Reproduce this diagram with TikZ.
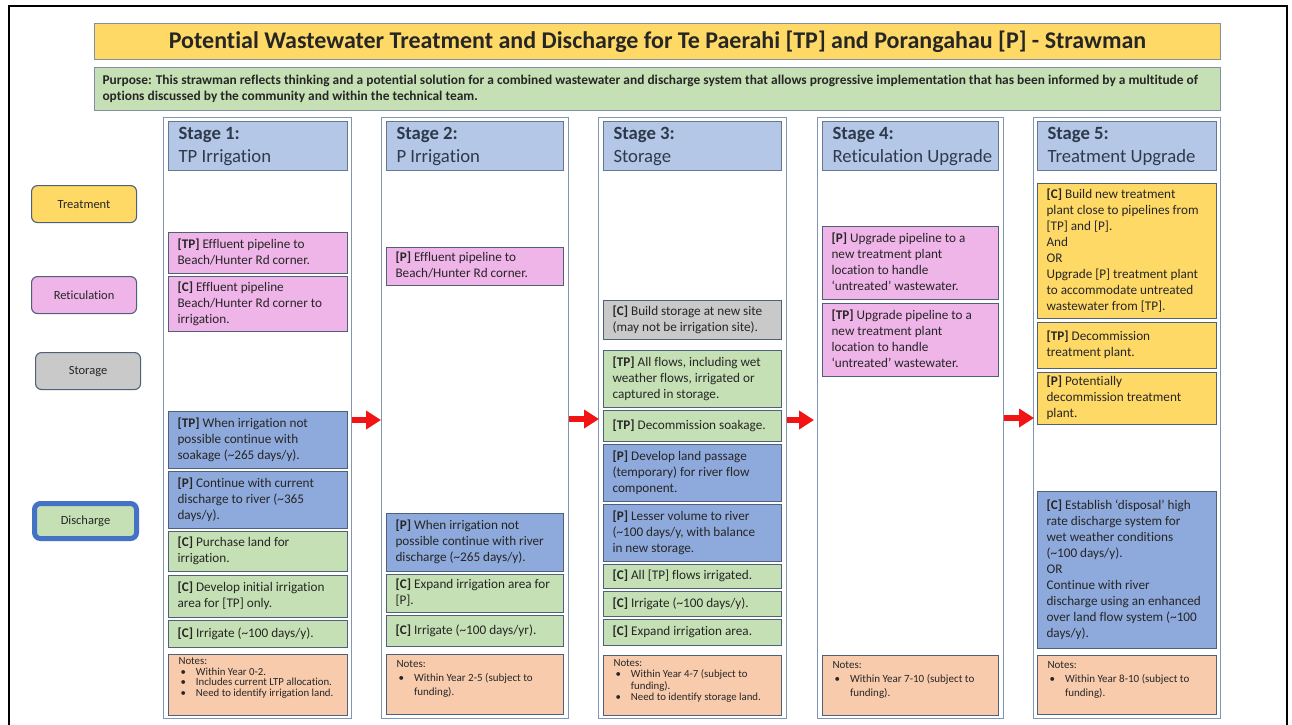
\documentclass[tikz,border=0pt]{standalone}
\usepackage{fontspec}
\setmainfont{Carlito}[Ligatures=NoCommon]
\usetikzlibrary{arrows.meta}
\definecolor{cgold}{HTML}{FFD966}
\definecolor{cpink}{HTML}{EFB4E8}
\definecolor{cgray}{HTML}{C9C9C9}
\definecolor{cgreen}{HTML}{C5E0B4}
\definecolor{cblue}{HTML}{8EA9DB}
\definecolor{chead}{HTML}{B4C7E7}
\definecolor{cnote}{HTML}{F8CBAD}
\definecolor{cbord}{HTML}{4F6179}
\definecolor{couter}{HTML}{8096B3}
\definecolor{ctxt}{HTML}{262626}
\definecolor{chtxt}{HTML}{2E3A4B}
\definecolor{cdisc}{HTML}{4472C4}
\definecolor{cred}{HTML}{F21414}
\tikzset{
  blk/.style={draw=cbord, line width=1.1pt, inner xsep=9pt, inner ysep=0pt,
    font=\fontsize{13.2}{16}\selectfont, text=ctxt},
  gold/.style={blk, fill=cgold},
  pink/.style={blk, fill=cpink},
  gray/.style={blk, fill=cgray},
  green/.style={blk, fill=cgreen},
  blue/.style={blk, fill=cblue},
  notebox/.style={blk, fill=cnote, inner xsep=10pt},
  headbox/.style={blk, fill=chead, draw=couter!80!black, text=chtxt, inner xsep=10pt,
    font=\fontsize{18.7}{23}\selectfont},
  column/.style={draw=couter, line width=1pt, fill=white},
  legend/.style={draw=cbord, line width=1.1pt, rounded corners=6pt, minimum width=105pt,
    minimum height=37pt, font=\fontsize{12.5}{15}\selectfont, text=ctxt},
  stagearrow/.style={draw=cred, line width=6pt, -{Triangle[length=15pt,width=18pt]}},
}
% box with vertically centred, left-aligned lines
\newcommand\bx[7][]{%
  \pgfmathsetmacro\bxw{#5-#3}%
  \pgfmathsetmacro\bxh{#6-#4}%
  \pgfmathsetmacro\bxt{#5-#3-18}%
  \node[#1, anchor=north west, minimum width=\bxw pt, minimum height=\bxh pt]
    (#2) at (#3,#4) {\makebox[\bxt pt][l]{\begin{tabular}{@{}l@{}}#7\end{tabular}}};}
% notes box: text at top
\newcommand\nt[7][]{%
  \pgfmathsetmacro\bxw{#5-#3}%
  \pgfmathsetmacro\bxh{#6-#4}%
  \pgfmathsetmacro\bxt{#5-#3-20}%
  \node[notebox, anchor=north west, minimum width=\bxw pt, minimum height=\bxh pt, #1]
    (#2) at (#3,#4) {\parbox[c][\bxh pt][t]{\bxt pt}{\vspace*{3pt}%
      \begin{tabular}{@{\hspace{2pt}}l@{\hspace{10pt}}l@{}}#7\end{tabular}}};}
\newcommand\hd[5]{%
  \pgfmathsetmacro\bxw{#4-#3}%
  \pgfmathsetmacro\bxt{#4-#3-20}%
  \node[headbox, anchor=north west, minimum width=\bxw pt, minimum height=49pt]
    (#1) at (#3,121) {\makebox[\bxt pt][l]{\begin{tabular}{@{}l@{}}\textbf{Stage #2:}\\#5\end{tabular}}};}
\newcommand\col[3]{%
  \pgfmathsetmacro\bxw{#3-#2}%
  \node[column, anchor=north west, minimum width=\bxw pt, minimum height=601pt] (#1) at (#2,117) {};}
\newcommand\nhead{\multicolumn{2}{@{}l@{}}{Notes:}}
\begin{document}
\begin{tikzpicture}[x=1pt,y=-1pt]
\useasboundingbox[fill=white] (0,0) rectangle (1292,724);
% outer frame
\draw[black, line width=2pt] (9,740) -- (9,6) -- (1287,6) -- (1287,740);

% title and purpose
\node[draw=cbord!70, line width=1pt, fill=cgold, anchor=north west, minimum width=1126pt,
  minimum height=36pt, font=\fontsize{24}{26}\selectfont\bfseries, text=ctxt] (title) at (94,23)
  {Potential Wastewater Treatment and Discharge for Te Paerahi [TP] and Porangahau [P] - Strawman};
\node[draw=cbord!70, line width=1pt, fill=cgreen, anchor=north west, minimum width=1126pt,
  minimum height=43pt, inner xsep=8pt, font=\fontsize{13.4}{16.5}\selectfont\bfseries, text=ctxt] (purpose) at (94,67)
  {\makebox[1110pt][l]{\begin{tabular}{@{}l@{}}Purpose: This strawman reflects thinking and a potential solution for a combined wastewater and discharge system that allows progressive implementation that has been informed by a multitude of\\options discussed by the community and within the technical team.\end{tabular}}};

% legend
\node[legend, fill=cgold, anchor=north west] (lgT) at (31,185) {Treatment};
\node[legend, fill=cpink, anchor=north west] (lgR) at (31,276) {Reticulation};
\node[legend, fill=cgray, anchor=north west] (lgS) at (35,352) {Storage};
\node[legend, fill=cgreen, draw=cdisc, line width=5pt, minimum width=102pt, minimum height=35pt, anchor=north west] (lgD) at (32,501) {Discharge};

% columns
\col{s1}{163}{351}
\col{s2}{381}{568}
\col{s3}{598}{786}
\col{s4}{817}{1003}
\col{s5}{1033}{1220}

% headers
\hd{h1}{1}{168}{347}{TP Irrigation}
\hd{h2}{2}{386}{563}{P Irrigation}
\hd{h3}{3}{603}{781}{Storage}
\hd{h4}{4}{822}{998}{Reticulation Upgrade}
\hd{h5}{5}{1037}{1216}{Treatment Upgrade}

% stage 1
\bx[pink]{a1}{168}{232}{347}{273}{\textbf{[TP]} Effluent pipeline to\\Beach/Hunter Rd corner.}
\bx[pink]{a2}{168}{276}{347}{331}{\textbf{[C]} Effluent pipeline\\Beach/Hunter Rd corner to\\irrigation.}
\bx[blue]{a3}{168}{411}{347}{468}{\textbf{[TP]} When irrigation not\\possible continue with\\soakage (\textasciitilde265 days/y).}
\bx[blue]{a4}{168}{471}{347}{528}{\textbf{[P]} Continue with current\\discharge to river (\textasciitilde365\\days/y).}
\bx[green]{a5}{168}{531}{347}{571}{\textbf{[C]} Purchase land for\\irrigation.}
\bx[green]{a6}{168}{575}{347}{617}{\textbf{[C]} Develop initial irrigation\\area for [TP] only.}
\bx[green]{a7}{168}{620}{347}{647}{\textbf{[C]} Irrigate (\textasciitilde100 days/y).}
\nt[font=\fontsize{10.8}{10}\selectfont]{n1}{168}{654}{347}{715}{\nhead\\ \textbullet & Within Year 0-2.\\ \textbullet & Includes current LTP allocation.\\ \textbullet & Need to identify irrigation land.}

% stage 2
\bx[pink]{b1}{386}{247}{563}{285}{\textbf{[P]} Effluent pipeline to\\Beach/Hunter Rd corner.}
\bx[blue]{b2}{386}{513}{563}{571}{\textbf{[P]} When irrigation not\\possible continue with river\\discharge (\textasciitilde265 days/y).}
\bx[green]{b3}{386}{574}{563}{612}{\textbf{[C]} Expand irrigation area for\\{[P]}.}
\bx[green]{b4}{386}{615}{563}{646}{\textbf{[C]} Irrigate (\textasciitilde100 days/yr).}
\nt[font=\fontsize{11}{14}\selectfont]{n2}{386}{654}{563}{714}{\nhead\\ \textbullet & Within Year 2-5 (subject to\\ & funding).}

% stage 3
\bx[gray]{c1}{603}{300}{781}{339}{\textbf{[C]} Build storage at new site\\(may not be irrigation site).}
\bx[green]{c2}{603}{350}{781}{407}{\textbf{[TP]} All flows, including wet\\weather flows, irrigated or\\captured in storage.}
\bx[green]{c3}{603}{410}{781}{441}{\textbf{[TP]} Decommission soakage.}
\bx[blue]{c4}{603}{444}{781}{501}{\textbf{[P]} Develop land passage\\(temporary) for river flow\\component.}
\bx[blue]{c5}{603}{504}{781}{561}{\textbf{[P]} Lesser volume to river\\(\textasciitilde100 days/y, with balance\\in new storage.}
\bx[green]{c6}{603}{564}{781}{588}{\textbf{[C]} All [TP] flows irrigated.}
\bx[green]{c7}{603}{591}{781}{616}{\textbf{[C]} Irrigate (\textasciitilde100 days/y).}
\bx[green]{c8}{603}{619}{781}{645}{\textbf{[C]} Expand irrigation area.}
\nt[font=\fontsize{10.8}{11.3}\selectfont]{n3}{603}{655}{781}{715}{\nhead\\ \textbullet & Within Year 4-7 (subject to\\ & funding).\\ \textbullet & Need to identify storage land.}

% stage 4
\bx[pink]{d1}{822}{226}{998}{299}{\textbf{[P]} Upgrade pipeline to a\\new treatment plant\\location to handle\\`untreated' wastewater.}
\bx[pink]{d2}{822}{303}{998}{376}{\textbf{[TP]} Upgrade pipeline to a\\new treatment plant\\location to handle\\`untreated' wastewater.}
\nt[font=\fontsize{11}{14}\selectfont]{n4}{822}{655}{998}{715}{\nhead\\ \textbullet & Within Year 7-10 (subject to\\ & funding).}

% stage 5
\bx[gold]{e1}{1037}{183}{1216}{318}{\textbf{[C]} Build new treatment\\plant close to pipelines from\\{[TP]} and [P].\\And\\OR\\Upgrade [P] treatment plant\\to accommodate untreated\\wastewater from [TP].}
\bx[gold]{e2}{1037}{322}{1216}{368}{\textbf{[TP]} Decommission\\treatment plant.}
\bx[gold]{e3}{1037}{372}{1216}{424}{\textbf{[P]} Potentially\\decommission treatment\\plant.}
\bx[blue]{e4}{1037}{491}{1216}{648}{\textbf{[C]} Establish `disposal' high\\rate discharge system for\\wet weather conditions\\(\textasciitilde100 days/y).\\OR\\Continue with river\\discharge using an enhanced\\over land flow system (\textasciitilde100\\days/y).}
\nt[font=\fontsize{11}{14}\selectfont]{n5}{1037}{655}{1216}{714}{\nhead\\ \textbullet & Within Year 8-10 (subject to\\ & funding).}

% stage arrows
\coordinate (p1) at (352,420); \coordinate (q1) at (381,420);
\coordinate (p2) at (569,419); \coordinate (q2) at (599,419);
\coordinate (p3) at (787,420); \coordinate (q3) at (814,420);
\coordinate (p4) at (1004,418); \coordinate (q4) at (1034,418);
\draw[stagearrow] (p1) -- (q1);
\draw[stagearrow] (p2) -- (q2);
\draw[stagearrow] (p3) -- (q3);
\draw[stagearrow] (p4) -- (q4);
\end{tikzpicture}
\end{document}
